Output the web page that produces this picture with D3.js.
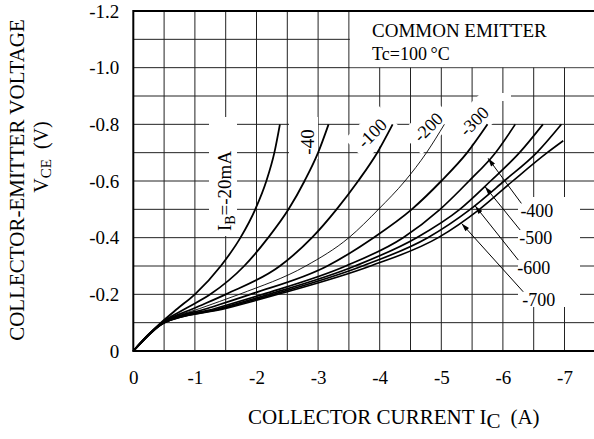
<!DOCTYPE html>
<html>
<head>
<meta charset="utf-8">
<script src="https://cdn.jsdelivr.net/npm/d3@7/dist/d3.min.js"></script>
<style>
  body { margin: 0; background: #fff; }
  svg text { font-family: "Liberation Serif", "Times New Roman", serif; fill: #000; }
</style>
</head>
<body>
<div id="chart"></div>
<script>
// collector-emitter voltage levels (magnitude, V) at which each curve was read
const vLevels = [0, 0.1, 0.15, 0.2, 0.3, 0.4, 0.5, 0.6, 0.7, 0.8];
const vLevels700 = [0, 0.1, 0.15, 0.2, 0.3, 0.4, 0.5, 0.6, 0.7, 0.742];

// collector current (magnitude, A) for each base current
const ib20  = [0, 0.45, 0.72, 1.0, 1.42, 1.74, 1.98, 2.16, 2.29, 2.38];
const ib40  = [0, 0.46, 0.85, 1.25, 1.8, 2.19, 2.52, 2.78, 3.0, 3.17];
const ib100 = [0, 0.47, 0.98, 1.5, 2.38, 2.9, 3.3, 3.65, 3.96, 4.21];
const ib200 = [0, 0.48, 1.08, 1.72, 2.8, 3.5, 3.98, 4.41, 4.76, 5.05];
const ib300 = [0, 0.49, 1.2, 1.9, 3.15, 3.9, 4.52, 5.0, 5.42, 5.75];
const ib400 = [0, 0.5, 1.33, 2.1, 3.45, 4.38, 4.98, 5.45, 5.88, 6.2];
const ib500 = [0, 0.5, 1.4, 2.2, 3.6, 4.6, 5.3, 5.8, 6.27, 6.65];
const ib600 = [0, 0.5, 1.45, 2.28, 3.72, 4.78, 5.47, 6.02, 6.55, 6.95];
const ib700 = [0, 0.5, 1.5, 2.35, 3.85, 4.95, 5.62, 6.16, 6.72, 6.98];

// arrows for the -400 .. -700 labels (start near label, tip on curve)
const arrowLabels = ["-400", "-500", "-600", "-700"];
const arrowStartI = [6.3, 6.28, 6.25, 6.33];
const arrowStartV = [0.521, 0.427, 0.321, 0.209];
const arrowTipI = [5.76, 5.71, 5.55, 5.33];
const arrowTipV = [0.68, 0.58, 0.512, 0.45];

const xTicks = [0, 1, 2, 3, 4, 5, 6, 7];
const yTicks = [0, 0.2, 0.4, 0.6, 0.8, 1.0, 1.2];

const width = 594, height = 439;
const margin = {top: 11, left: 133.3, bottom: 351, right: 595.3};

const svg = d3.create("svg").attr("width", width).attr("height", height);

const x = d3.scaleLinear().domain([0, 7.5]).range([margin.left, margin.right]);
const y = d3.scaleLinear().domain([0, 1.2]).range([margin.bottom, margin.top]);

// grid
const grid = svg.append("g").attr("stroke", "#222").attr("stroke-width", 1);
grid.selectAll(".vg").data(d3.range(1, 15).map(d => d * 0.5)).join("line")
  .attr("x1", d => x(d)).attr("x2", d => x(d))
  .attr("y1", y(0)).attr("y2", y(1.2));
grid.selectAll(".hg").data(d3.range(1, 12).map(d => d / 10)).join("line")
  .attr("x1", x(0)).attr("x2", x(7.5))
  .attr("y1", d => y(d)).attr("y2", d => y(d));

// white masks behind labels (they cut the grid, as in the original)
const mask = svg.append("g").attr("fill", "#fff");
mask.append("rect").attr("x", x(3.5) + 1).attr("y", y(1.2) + 1)
  .attr("width", x(7.5) - x(3.5)).attr("height", y(1.0) - y(1.2) - 1.5);
mask.append("rect").attr("x", 209).attr("y", 117).attr("width", 28).attr("height", 119);
mask.append("rect").attr("x", 289).attr("y", 117).attr("width", 29).attr("height", 42);
mask.append("rect").attr("x", 518).attr("y", 197).attr("width", 62).attr("height", 110);
mask.append("rect").attr("x", 479).attr("y", 93).attr("width", 32).attr("height", 8);

const rotLabels = [
  {t: "-100", cx: 372, cy: 133},
  {t: "-200", cx: 428, cy: 127},
  {t: "-300", cx: 474, cy: 121}
];
const rl = svg.append("g").selectAll("g").data(rotLabels).join("g")
  .attr("transform", d => `translate(${d.cx},${d.cy}) rotate(-45)`);
rl.append("rect").attr("x", -24).attr("y", -15).attr("width", 48).attr("height", 30).attr("fill", "#fff");

// curves
const series = [
  {v: vLevels, i: ib20, w: 1.8},
  {v: vLevels, i: ib40, w: 1.8},
  {v: vLevels, i: ib100, w: 1.8},
  {v: vLevels, i: ib200, w: 0.9},
  {v: vLevels, i: ib300, w: 1.8},
  {v: vLevels, i: ib400, w: 1.7},
  {v: vLevels, i: ib500, w: 1.7},
  {v: vLevels, i: ib600, w: 1.7},
  {v: vLevels700, i: ib700, w: 1.6}
];
const line = d3.line().x(d => x(d[0])).y(d => y(d[1])).curve(d3.curveMonotoneX);
svg.append("g").selectAll("path").data(series).join("path")
  .attr("d", s => line(s.i.map((c, k) => [c, s.v[k]])))
  .attr("fill", "none").attr("stroke", "#000").attr("stroke-width", s => s.w);

// frame
const frame = svg.append("g").attr("stroke", "#000").attr("stroke-width", 2);
frame.append("line").attr("x1", x(0)).attr("x2", x(0)).attr("y1", y(0) + 1).attr("y2", y(1.2) - 1);
frame.append("line").attr("x1", x(0)).attr("x2", x(7.5)).attr("y1", y(1.2)).attr("y2", y(1.2));
frame.append("line").attr("x1", x(0)).attr("x2", x(7.5)).attr("y1", y(0)).attr("y2", y(0));

// rotated labels text
rl.append("text").attr("text-anchor", "middle").attr("dy", "0.35em")
  .attr("font-size", 18).text(d => d.t);

// IB = -20mA and -40 (vertical)
svg.append("text").attr("transform", "translate(231,191) rotate(-90)")
  .attr("text-anchor", "middle").attr("font-size", 19)
  .call(t => {
    t.append("tspan").text("I");
    t.append("tspan").attr("font-size", 14).attr("dy", 4).text("B");
    t.append("tspan").attr("dy", -4).text("=-20mA");
  });
svg.append("text").attr("transform", "translate(314,142) rotate(-90)")
  .attr("text-anchor", "middle").attr("font-size", 19).text("-40");

// arrows
svg.append("defs").append("marker").attr("id", "ah")
  .attr("viewBox", "0 0 10 6").attr("refX", 10).attr("refY", 3)
  .attr("markerWidth", 9).attr("markerHeight", 5).attr("markerUnits", "userSpaceOnUse")
  .attr("orient", "auto")
  .append("path").attr("d", "M0,0L10,3L0,6Z").attr("fill", "#000");
svg.append("g").selectAll("line").data(arrowLabels).join("line")
  .attr("x1", (d, k) => x(arrowStartI[k])).attr("y1", (d, k) => y(arrowStartV[k]))
  .attr("x2", (d, k) => x(arrowTipI[k])).attr("y2", (d, k) => y(arrowTipV[k]))
  .attr("stroke", "#000").attr("stroke-width", 1).attr("marker-end", "url(#ah)");
svg.append("g").selectAll("text").data(arrowLabels).join("text")
  .attr("x", (d, k) => x(arrowStartI[k]) - 1)
  .attr("y", (d, k) => y(arrowStartV[k]) + 14)
  .attr("font-size", 18).text(d => d);

// annotation
svg.append("text").attr("x", 372).attr("y", 37).attr("font-size", 19).text("COMMON EMITTER");
svg.append("text").attr("x", 372).attr("y", 60).attr("font-size", 18).text("Tc=100\u2009°C");

// axes (labels only)
const yAxis = svg.append("g").attr("transform", `translate(${x(0)},0)`)
  .call(d3.axisLeft(y).tickValues(yTicks).tickSize(0).tickPadding(14)
    .tickFormat(d => d === 0 ? "0" : "-" + d.toFixed(1)));
const xAxis = svg.append("g").attr("transform", `translate(0,${y(0)})`)
  .call(d3.axisBottom(x).tickValues(xTicks).tickSize(0).tickPadding(20)
    .tickFormat(d => d === 0 ? "0" : "-" + d));
[yAxis, xAxis].forEach(a => {
  a.select(".domain").remove();
  a.attr("font-family", null);
  a.selectAll("text").attr("font-size", 19);
});

// axis titles
svg.append("text").attr("x", 248).attr("y", 424).attr("font-size", 21)
  .call(t => {
    t.append("tspan").text("COLLECTOR CURRENT I");
    t.append("tspan").attr("dy", 4).text("C");
    t.append("tspan").attr("dy", -4).attr("dx", 10).text("(A)");
  });
svg.append("text").attr("transform", "translate(24,180) rotate(-90)")
  .attr("text-anchor", "middle").attr("font-size", 21).text("COLLECTOR-EMITTER VOLTAGE");
svg.append("text").attr("transform", "translate(48,157) rotate(-90)")
  .attr("text-anchor", "middle").attr("font-size", 20)
  .call(t => {
    t.append("tspan").text("V");
    t.append("tspan").attr("font-size", 15).attr("dy", 3).text("CE");
    t.append("tspan").attr("dy", -3).attr("dx", 10).text("(V)");
  });

document.getElementById("chart").appendChild(svg.node());
</script>
</body>
</html>
